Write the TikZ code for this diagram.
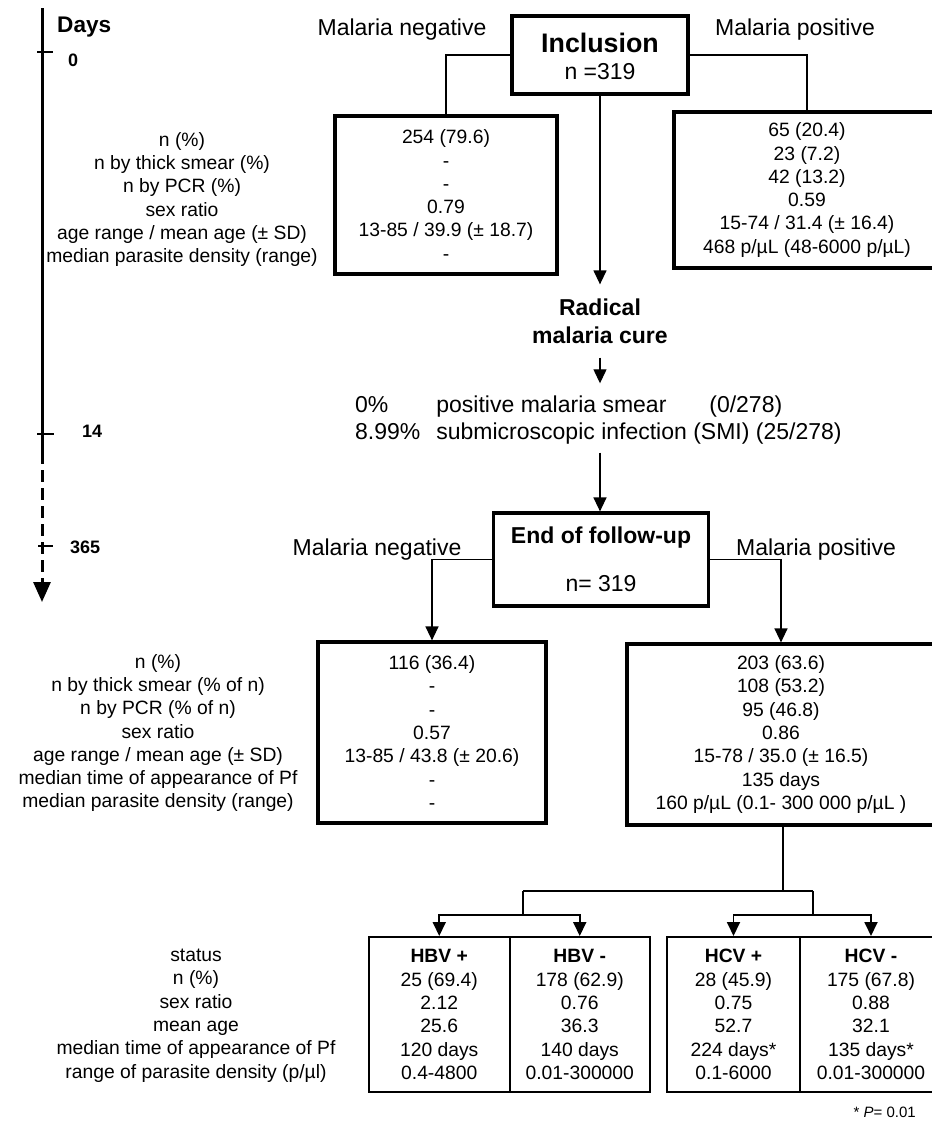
\documentclass[tikz,border=0pt]{standalone}
\usepackage{fontspec}
\setmainfont{Liberation Sans}
\usetikzlibrary{arrows.meta}
\begin{document}
\begin{tikzpicture}[x=1pt,y=-1pt,
  lbl/.style={font=\fontsize{19.3}{23.3}\selectfont, align=center, inner sep=0pt},
  big/.style={font=\fontsize{23}{27}\selectfont, inner sep=0pt},
  bbig/.style={font=\bfseries\fontsize{23}{28}\selectfont, align=center, inner sep=0pt},
  thickbox/.style={draw, line width=3.2pt, inner sep=0pt},
  cellbox/.style={draw, line width=2pt, inner sep=0pt},
  conn/.style={line width=1.3pt},
  arr/.style={conn, -{Triangle[length=14pt,width=13pt]}},
  split/.style={line width=1.8pt},
  splitarr/.style={split, -{Triangle[length=14pt,width=13pt]}},
  tickmark/.style={line width=2.4pt},
  daynum/.style={font=\bfseries\fontsize{18}{20}\selectfont, inner sep=0pt}
]
\useasboundingbox (0,0) rectangle (932,1128);

% ---------- timeline ----------
\coordinate (t0) at (42,8);
\coordinate (t14) at (42,452);
\coordinate (tend) at (42,602);
\draw[line width=3pt] (t0) -- (t14);
\draw[line width=3pt, dash pattern=on 12pt off 6pt, -{Triangle[length=20pt,width=17pt]}] (t14) -- (tend);
\draw[tickmark] (37,52) -- (53,52);
\draw[tickmark] (37,434) -- (54,434);
\draw[tickmark] (38,546) -- (53,546);
\node[font=\bfseries\fontsize{22.6}{26}\selectfont, anchor=west, inner sep=0pt] (days) at (57,27) {Days};
\node[daynum, anchor=west] (d0) at (68,60) {0};
\node[daynum, anchor=west] (d14) at (82,431) {14};
\node[daynum, anchor=west] (d365) at (70,547) {365};

% ---------- inclusion ----------
\node[big] (mneg1) at (402,30) {Malaria negative};
\node[big] (mpos1) at (795,30) {Malaria positive};
\node[thickbox, minimum width=176pt, minimum height=78pt] (incl) at (600,55) {};
\node[font=\bfseries\fontsize{26.8}{30}\selectfont, inner sep=0pt] (incltxt) at (600,43) {Inclusion};
\node[big] (incln) at (600,72) {n =319};

\node[thickbox, lbl, minimum width=222pt, minimum height=158pt] (neg1) at (446,195)
  {254 (79.6)\\-\\-\\0.79\\13-85 / 39.9 (± 18.7)\\-};
\node[thickbox, lbl, minimum width=266pt, minimum height=156pt] (pos1) at (807,190)
  {65 (20.4)\\23 (7.2)\\42 (13.2)\\0.59\\15-74 / 31.4 (± 16.4)\\468 p/µL (48-6000 p/µL)};
\draw[conn] (incl.west) -| (neg1.north);
\draw[conn] (incl.east) -| (pos1.north);

\node[lbl] (lab1) at (182,199.5)
  {n (\%)\\n by thick smear (\%)\\n by PCR (\%)\\sex ratio\\age range / mean age (± SD)\\median parasite density (range)};

% ---------- cure ----------
\node[bbig] (rad) at (600,321) {Radical\\malaria cure};
\draw[arr, shorten >=14pt] (incl.south) -- (rad.north);

\node[font=\fontsize{23}{27}\selectfont, inner sep=0pt, anchor=west] (res) at (355,420.5)
  {\begin{tabular}{@{}l@{\hspace{16pt}}l@{}}0\% & \makebox[273pt][l]{positive malaria smear}(0/278)\\
   8.99\% & submicroscopic infection (SMI) (25/278)\end{tabular}};
\draw[arr, shorten <=14pt, shorten >=10pt] (rad.south) -- (rad.south |- res.north);

% ---------- end of follow-up ----------
\node[thickbox, minimum width=215pt, minimum height=93pt] (endb) at (601,559.5) {};
\node[bbig] (endtxt) at (601,538) {End of follow-up};
\node[big] (endn) at (601,584) {n= 319};
\draw[arr, shorten <=5pt] (rad.south |- res.south) -- (rad.south |- endb.north);

\node[big] (mneg2) at (377,550) {Malaria negative};
\node[big] (mpos2) at (816,550) {Malaria positive};

\node[thickbox, lbl, minimum width=228pt, minimum height=181pt] (neg2) at (432,732.5)
  {116 (36.4)\\-\\-\\0.57\\13-85 / 43.8 (± 20.6)\\-\\-};
\node[thickbox, lbl, minimum width=308pt, minimum height=181pt] (pos2) at (781,734.5)
  {203 (63.6)\\108 (53.2)\\95 (46.8)\\0.86\\15-78 / 35.0 (± 16.5)\\135 days\\160 p/µL (0.1- 300 000 p/µL )};
\draw[arr] (endb.west) -| (neg2.north);
\draw[arr] (endb.east) -| (pos2.north);

\node[lbl] (lab2) at (158,733)
  {n (\%)\\n by thick smear (\% of n)\\n by PCR (\% of n)\\sex ratio\\age range / mean age (± SD)\\median time of appearance of Pf\\median parasite density (range)};

% ---------- split ----------
\coordinate (sp) at (783,891);
\coordinate (spl) at (523,891);
\coordinate (spr) at (813,891);
\coordinate (hbvj) at (523,915);
\coordinate (hcvj) at (813,915);

\node[cellbox, lbl, minimum width=140.5pt, minimum height=155pt] (hbvp) at (439.25,1014.5)
  {\textbf{HBV +}\\25 (69.4)\\2.12\\25.6\\120 days\\0.4-4800};
\node[cellbox, lbl, minimum width=140.5pt, minimum height=155pt] (hbvn) at (579.75,1014.5)
  {\textbf{HBV -}\\178 (62.9)\\0.76\\36.3\\140 days\\0.01-300000};
\node[cellbox, lbl, minimum width=133pt, minimum height=155pt] (hcvp) at (733.5,1014.5)
  {\textbf{HCV +}\\28 (45.9)\\0.75\\52.7\\224 days*\\0.1-6000};
\node[cellbox, lbl, minimum width=142pt, minimum height=155pt] (hcvn) at (871,1014.5)
  {\textbf{HCV -}\\175 (67.8)\\0.88\\32.1\\135 days*\\0.01-300000};

\draw[split] (pos2.south -| sp) -- (sp);
\draw[split] (spl) -- (spr);
\draw[split] (spl) -- (hbvj);
\draw[split] (spr) -- (hcvj);
\draw[splitarr] (hbvj) -| (hbvp.north);
\draw[splitarr] (hbvj) -| (hbvn.north);
\draw[splitarr] (hcvj) -| (hcvp.north);
\draw[splitarr] (hcvj) -| (hcvn.north);

\node[lbl] (lab3) at (196,1015.5)
  {status\\n (\%)\\sex ratio\\mean age\\median time of appearance of Pf\\range of parasite density (p/µl)};

\node[font=\fontsize{15}{18}\selectfont, anchor=east, inner sep=0pt] (fn) at (916,1112) {* \textit{P}= 0.01};
\end{tikzpicture}
\end{document}
